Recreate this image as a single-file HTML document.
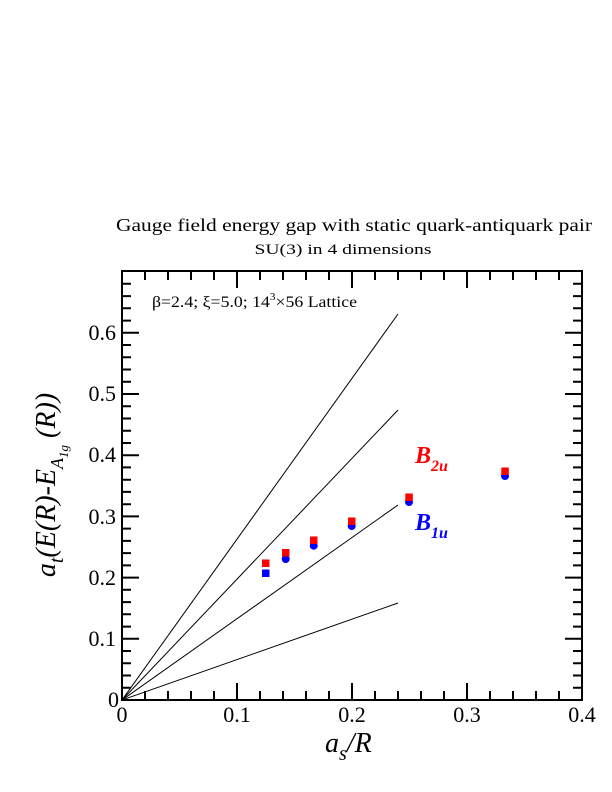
<!DOCTYPE html>
<html><head><meta charset="utf-8"><style>
html,body{margin:0;padding:0;background:#fff;}
svg{display:block;font-family:"Liberation Serif",serif;}
</style></head><body>
<svg width="612" height="792" viewBox="0 0 612 792" xmlns="http://www.w3.org/2000/svg">
<rect width="612" height="792" fill="#fff"/>
<text x="354" y="231" font-size="18" text-anchor="middle" textLength="476" lengthAdjust="spacingAndGlyphs">Gauge field energy gap with static quark-antiquark pair</text>
<text x="343" y="254" font-size="15" text-anchor="middle" textLength="177" lengthAdjust="spacingAndGlyphs">SU(3) in 4 dimensions</text>
<g stroke="#000" stroke-width="1" fill="none">
<line x1="122" y1="700" x2="398" y2="314"/>
<line x1="122" y1="700" x2="398" y2="410"/>
<line x1="122" y1="700" x2="398" y2="505"/>
<line x1="122" y1="700" x2="398" y2="603"/>
</g>
<g stroke="#000" stroke-width="2" fill="none">
<rect x="122" y="271" width="460" height="429"/>
<path d="M145 700v-9M168 700v-9M191 700v-9M214 700v-9M237 700v-17M260 700v-9M283 700v-9M306 700v-9M329 700v-9M352 700v-17M375 700v-9M398 700v-9M421 700v-9M444 700v-9M467 700v-17M490 700v-9M513 700v-9M536 700v-9M559 700v-9"/>
<path d="M145 271v9M168 271v9M191 271v9M214 271v9M237 271v17M260 271v9M283 271v9M306 271v9M329 271v9M352 271v17M375 271v9M398 271v9M421 271v9M444 271v9M467 271v17M490 271v9M513 271v9M536 271v9M559 271v9"/>
<path d="M122 687.8h9M122 675.5h9M122 663.3h9M122 651h9M122 638.8h17M122 626.6h9M122 614.3h9M122 602.1h9M122 589.8h9M122 577.6h17M122 565.4h9M122 553.1h9M122 540.9h9M122 528.6h9M122 516.4h17M122 504.2h9M122 491.9h9M122 479.7h9M122 467.4h9M122 455.2h17M122 443h9M122 430.7h9M122 418.5h9M122 406.2h9M122 394h17M122 381.8h9M122 369.5h9M122 357.3h9M122 345h9M122 332.8h17M122 320.6h9M122 308.3h9M122 296.1h9M122 283.8h9"/>
<path d="M582 687.8h-9M582 675.5h-9M582 663.3h-9M582 651h-9M582 638.8h-17M582 626.6h-9M582 614.3h-9M582 602.1h-9M582 589.8h-9M582 577.6h-17M582 565.4h-9M582 553.1h-9M582 540.9h-9M582 528.6h-9M582 516.4h-17M582 504.2h-9M582 491.9h-9M582 479.7h-9M582 467.4h-9M582 455.2h-17M582 443h-9M582 430.7h-9M582 418.5h-9M582 406.2h-9M582 394h-17M582 381.8h-9M582 369.5h-9M582 357.3h-9M582 345h-9M582 332.8h-17M582 320.6h-9M582 308.3h-9M582 296.1h-9M582 283.8h-9"/>
</g>
<g font-size="22" text-anchor="middle">
<text x="122" y="722">0</text><text x="237" y="722">0.1</text><text x="352" y="722">0.2</text><text x="467" y="722">0.3</text><text x="582" y="722">0.4</text>
</g>
<g font-size="22" text-anchor="end">
<text x="119" y="707">0</text><text x="116" y="646">0.1</text><text x="116" y="585">0.2</text><text x="116" y="524">0.3</text><text x="116" y="462">0.4</text><text x="116" y="401">0.5</text><text x="116" y="340">0.6</text>
</g>
<text x="325" y="752" font-size="28" font-style="italic">a<tspan font-size="20" dy="8">s</tspan><tspan dy="-8">/R</tspan></text>
<text transform="translate(55,485) rotate(-90)" font-size="28" font-style="italic" text-anchor="middle">a<tspan font-size="20" dy="8">t</tspan><tspan dy="-8">(E(R)-E</tspan><tspan font-size="18" dy="8">A</tspan><tspan font-size="13" dy="5">1g</tspan><tspan dy="-13"> (R))</tspan></text>
<text x="152" y="307" font-size="16" textLength="205" lengthAdjust="spacingAndGlyphs">β=2.4;  ξ=5.0; 14<tspan font-size="10" dy="-7">3</tspan><tspan dy="7">×56 Lattice</tspan></text>
<g fill="#0000ff">
<rect x="262" y="569.5" width="7.5" height="7.5"/>
<circle cx="285.7" cy="559" r="4"/>
<circle cx="313.7" cy="545.7" r="4"/>
<circle cx="351.7" cy="526" r="4"/>
<circle cx="409" cy="502" r="4"/>
<circle cx="505" cy="476" r="4"/>
</g>
<g fill="#ff0000">
<rect x="262" y="559.5" width="7.5" height="7.5"/>
<rect x="282" y="549" width="7.5" height="7.5"/>
<rect x="310" y="536.5" width="7.5" height="7.5"/>
<rect x="348" y="517.5" width="7.5" height="7.5"/>
<rect x="405.3" y="493.5" width="7.5" height="7.5"/>
<rect x="501.3" y="467.5" width="7.5" height="7.5"/>
</g>
<text x="415" y="463" font-size="24" font-weight="bold" font-style="italic" fill="#ff0000">B<tspan font-size="16" dy="8">2u</tspan></text>
<text x="415" y="530" font-size="24" font-weight="bold" font-style="italic" fill="#0000ff">B<tspan font-size="16" dy="8">1u</tspan></text>
</svg>
</body></html>
